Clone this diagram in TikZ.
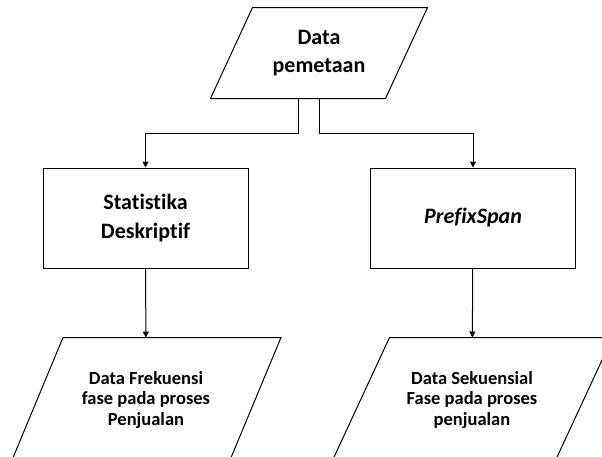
\documentclass[tikz,border=0pt]{standalone}
\usepackage{fontspec}
\setmainfont{Carlito}[Ligatures=NoCommon]
\usetikzlibrary{shapes, arrows.meta, positioning}

% jajaran genjang di sekitar node: #1 = nama node, #2 = setengah kemiringan
\newcommand{\jajargenjang}[2]{%
    \draw ([xshift=-#2]#1.south west) -- ([xshift=#2]#1.north west)
        -- ([xshift=#2]#1.north east) -- ([xshift=-#2]#1.south east) -- cycle;}

\begin{document}
\begin{tikzpicture}[x=1pt, y=-1pt, line width=1pt,
        data/.style={rectangle, align=center, inner sep=0pt},
        proses/.style={rectangle, draw, align=center, inner sep=0pt,
            minimum width=205pt, minimum height=100pt,
            font=\fontsize{22}{29}\selectfont\bfseries},
        arr/.style={-{Triangle[length=6pt,width=6pt]}}
    ]
        \clip (0,0) rectangle (602,456);
        % input
        \node[data, minimum width=174pt, minimum height=90pt,
            font=\fontsize{22}{28}\selectfont\bfseries] (peta) at (319,53) {Data\\pemetaan};
        \jajargenjang{peta}{21pt}
        % proses
        \node[proses] (statistik) at (145.5,218) {Statistika\\Deskriptif};
        \node[proses] (prefix) at (473,218) {\itshape PrefixSpan};
        % output
        \node[data, minimum width=217pt, minimum height=124pt,
            font=\fontsize{18.5}{20.5}\selectfont\bfseries] (frekuensi) at (146,400)
            {Data Frekuensi\\fase pada proses\\Penjualan};
        \jajargenjang{frekuensi}{26pt}
        \node[data, minimum width=222pt, minimum height=124pt,
            font=\fontsize{18.5}{20.5}\selectfont\bfseries] (sekuensial) at (472,400)
            {Data Sekuensial\\Fase pada proses\\penjualan};
        \jajargenjang{sekuensial}{29pt}
        % alur
        \draw[arr] ([xshift=-21pt]peta.south) -- ++(0,-35pt) -| (statistik);
        \draw[arr] (peta.south) -- ++(0,-35pt) -| (prefix);
        \draw[arr] (statistik) -- (frekuensi);
        \draw[arr] (prefix) -- (sekuensial);
    \end{tikzpicture}
\end{document}
